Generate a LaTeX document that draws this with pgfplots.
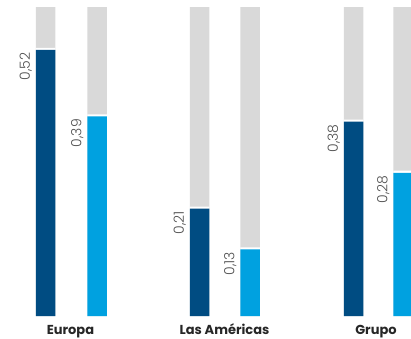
\documentclass[border=0pt]{standalone}
\usepackage{pgfplots}
\pgfplotsset{compat=1.18}
\usepackage{fontspec}
\setmainfont{Poppins}
\newfontfamily\vlight{Poppins Light}
\definecolor{darkb}{HTML}{004C82}
\definecolor{lightb}{HTML}{00A1E0}
\definecolor{grayb}{HTML}{D9D9D9}
\definecolor{txt}{HTML}{505050}
\begin{document}
\begin{tikzpicture}
\begin{axis}[
  at={(0,0)}, anchor=south west,
  scale only axis, width=411pt, height=309pt,
  xmin=0, xmax=411, ymin=0, ymax=0.604,
  axis line style={draw=none},
  tick style={draw=none},
  ytick=\empty,
  xtick={70.5,224.5,376},
  xticklabels={Europa,Las Américas,Grupo},
  xticklabel style={anchor=base, yshift=-14.5pt, font=\fontsize{13}{14}\selectfont\bfseries, text=black!85},
  ybar, bar width=19.5, bar shift=0pt,
  clip=false,
]
\addplot[fill=grayb, draw=none] coordinates {(45.5,0.604) (97,0.604) (199.5,0.604) (250,0.604) (353.5,0.604) (403,0.604)};
\addplot[fill=white, draw=none] coordinates {(45.5,0.524) (97,0.394) (199.5,0.214) (250,0.134) (353.5,0.384) (403,0.284)};
\addplot[fill=darkb, draw=none,
  point meta=explicit symbolic,
  nodes near coords,
  every node near coord/.style={xshift=-13.5pt, yshift=-2.5pt, rotate=90, anchor=south east, inner sep=0pt, font=\fontsize{14}{14}\selectfont\vlight, text=txt}]
  coordinates {(45.5,0.52) [0,52] (199.5,0.21) [0,21] (353.5,0.38) [0,38]};
\addplot[fill=lightb, draw=none,
  point meta=explicit symbolic,
  nodes near coords,
  every node near coord/.style={xshift=-13.5pt, yshift=-2.5pt, rotate=90, anchor=south east, inner sep=0pt, font=\fontsize{14}{14}\selectfont\vlight, text=txt}]
  coordinates {(97,0.39) [0,39] (250,0.13) [0,13] (403,0.28) [0,28]};
\end{axis}
\pgfresetboundingbox
\path (0,-22pt) rectangle (411pt,316pt);
\end{tikzpicture}
\end{document}
